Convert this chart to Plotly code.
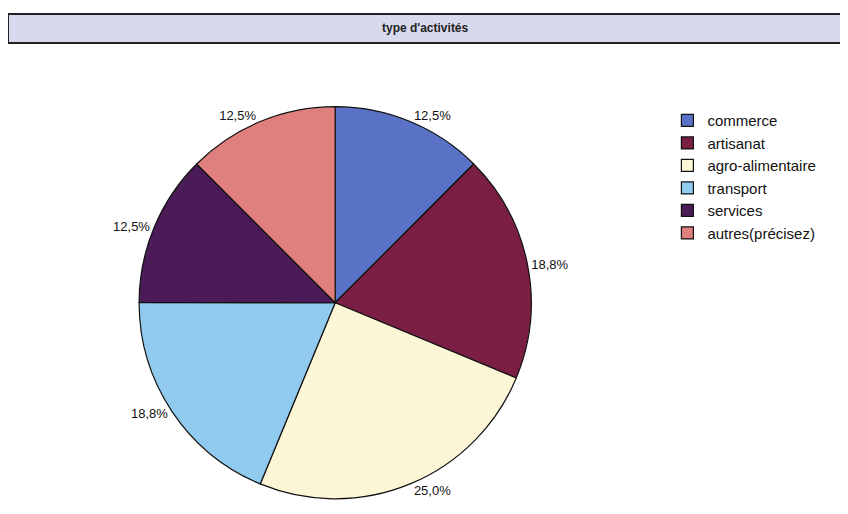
import plotly.graph_objects as go

categories = ["commerce", "artisanat", "agro-alimentaire", "transport", "services", "autres(précisez)"]
values = [12.5, 18.8, 25.0, 18.8, 12.5, 12.5]
colors = ["#5A72C6", "#7B1E44", "#FDF6D6", "#90CBEF", "#4B1B58", "#E0807E"]
labels_txt = [f"{v:.1f}%".replace(".", ",") for v in values]
title_text = "type d'activités"

W, H = 840, 506  # page body has an 8px margin

fig = go.Figure(go.Pie(
    labels=categories,
    values=values,
    text=labels_txt,
    textinfo="text",
    textposition="outside",
    sort=False,
    direction="clockwise",
    rotation=0,
    marker=dict(colors=colors, line=dict(color="#111111", width=1.2)),
    textfont=dict(family="Liberation Sans, Arial", size=13, color="#111"),
    domain=dict(x=[0.0, 0.779], y=[0.03, 0.805]),
    hoverinfo="label+percent",
))

fig.update_layout(
    width=W, height=H,
    margin=dict(l=0, r=0, t=0, b=0, autoexpand=False),
    paper_bgcolor="white",
    showlegend=True,
    legend=dict(
        x=0.785, y=0.81, xanchor="left", yanchor="top",
        font=dict(family="Liberation Sans, Arial", size=15, color="#111"),
        tracegroupgap=0, itemwidth=30,
        bgcolor="rgba(0,0,0,0)",
    ),
    shapes=[dict(type="rect", xref="paper", yref="paper",
                 x0=0.0, x1=1.02, y0=1 - 35 / H, y1=1 - 6 / H,
                 fillcolor="#D9D9EE", line=dict(color="#222", width=2))],
    annotations=[dict(text="<b>" + title_text + "</b>", xref="paper", yref="paper",
                      x=0.497, y=1 - 20.5 / H, xanchor="center", yanchor="middle",
                      showarrow=False,
                      font=dict(family="Liberation Sans, Arial", size=12, color="#222"))],
)

fig.write_html("out.html")
